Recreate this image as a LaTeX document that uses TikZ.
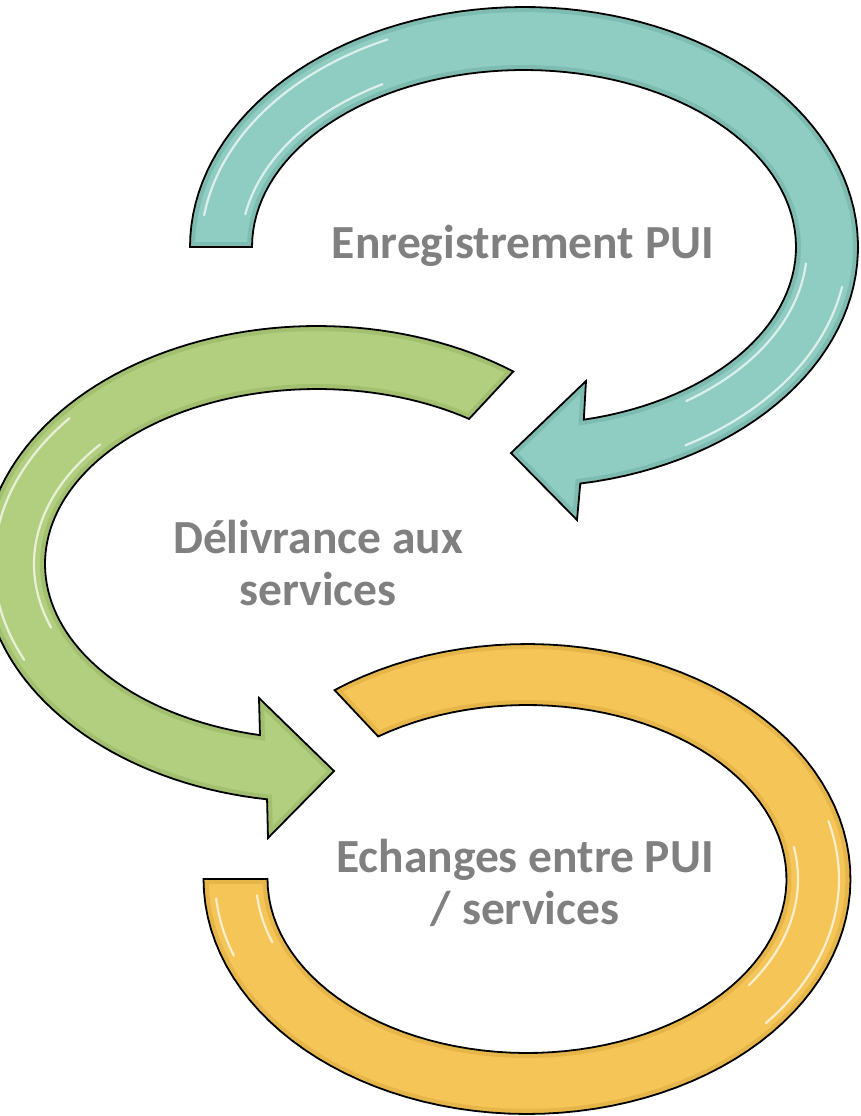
\documentclass[tikz,border=0pt]{standalone}
\usepackage{fontspec}
\setmainfont{Carlito}
\definecolor{tealc}{RGB}{143,204,193}
\definecolor{teald}{RGB}{95,160,150}
\definecolor{greenc}{RGB}{178,206,127}
\definecolor{greend}{RGB}{135,168,85}
\definecolor{yellowc}{RGB}{245,197,88}
\definecolor{yellowd}{RGB}{205,155,50}
\definecolor{txtgrey}{RGB}{128,128,128}
\newcommand\tealshape{plot[domain=180:440.3,samples=100] ({524+334*cos(\x)},{247+240*sin(\x)}) -- (577,520) -- (511,453) -- (586,381) -- plot[domain=437.3:180,samples=100] ({524+272*cos(\x)},{247+177*sin(\x)}) -- cycle}
\newcommand\greenshape{plot[domain=-54:-261.4,samples=100] ({317+334*cos(\x)},{564+238*sin(\x)}) -- (268,838) -- (334,771) -- (259,698) -- plot[domain=-257.9:-56,samples=100] ({317+272*cos(\x)},{564+175*sin(\x)}) -- cycle}
\newcommand\yellowshape{plot[domain=233.5:540,samples=100] ({527+323.5*cos(\x)},{879+235*sin(\x)}) -- plot[domain=540:235,samples=100] ({527+259.5*cos(\x)},{879+174*sin(\x)}) -- cycle}
\begin{document}
\begin{tikzpicture}[x=1pt,y=-1pt,
  edge/.style={line width=10pt,opacity=.35},
  hl/.style={white,line width=2.2pt,opacity=.7,line cap=round},
  outline/.style={black,line width=1.8pt,line join=miter},
  lbl/.style={anchor=base,align=center,text=txtgrey,inner sep=0pt,
    font=\fontsize{47.5}{52}\selectfont\bfseries}]
\useasboundingbox (0,0) rectangle (861,1116);
\clip (0,0) rectangle (861,1116);
\fill[white] (0,0) rectangle (861,1116);
% teal arrow
\fill[tealc] \tealshape;
\begin{scope}
  \clip \tealshape;
  \draw[edge,teald] \tealshape;
  \draw[hl] plot[domain=188:245,samples=40] ({524+323*cos(\x)},{247+229*sin(\x)});
  \draw[hl] plot[domain=190:240,samples=40] ({524+283*cos(\x)},{247+188*sin(\x)});
  \draw[hl] plot[domain=10:60,samples=40] ({524+323*cos(\x)},{247+229*sin(\x)});
  \draw[hl] plot[domain=5:55,samples=40] ({524+283*cos(\x)},{247+188*sin(\x)});
\end{scope}
\draw[outline] \tealshape;
% green arrow
\fill[greenc] \greenshape;
\begin{scope}
  \clip \greenshape;
  \draw[edge,greend] \greenshape;
  \draw[hl] plot[domain=-205:-140,samples=40] ({317+323*cos(\x)},{564+227*sin(\x)});
  \draw[hl] plot[domain=-200:-140,samples=40] ({317+283*cos(\x)},{564+186*sin(\x)});
\end{scope}
\draw[outline] \greenshape;
% yellow arc
\fill[yellowc] \yellowshape;
\begin{scope}
  \clip \yellowshape;
  \draw[edge,yellowd] \yellowshape;
  \draw[hl] plot[domain=-15:40,samples=40] ({527+312*cos(\x)},{879+224*sin(\x)});
  \draw[hl] plot[domain=-10:35,samples=40] ({527+271*cos(\x)},{879+185*sin(\x)});
  \draw[hl] plot[domain=520:535,samples=20] ({527+312*cos(\x)},{879+224*sin(\x)});
  \draw[hl] plot[domain=520:535,samples=20] ({527+271*cos(\x)},{879+185*sin(\x)});
\end{scope}
\draw[outline] \yellowshape;
% labels (base anchor = baseline of the last line)
\node[lbl] (t1) at (523,258) {Enregistrement PUI};
\node[lbl] (t2) at (318,605) {Délivrance aux\\services};
\node[lbl] (t3) at (525,924) {Echanges entre PUI\\/ services};
\end{tikzpicture}
\end{document}
